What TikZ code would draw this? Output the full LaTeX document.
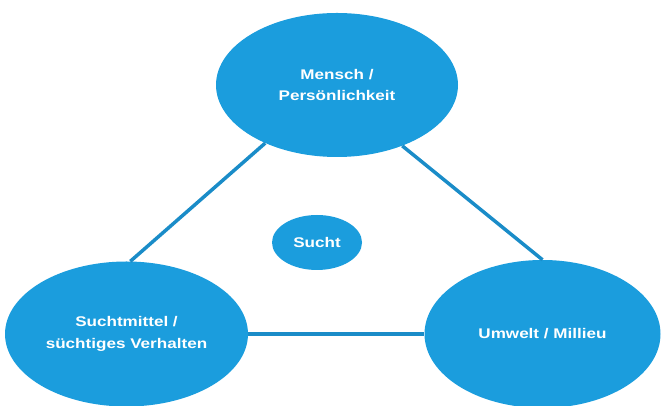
\documentclass[tikz,border=0pt]{standalone}
\usepackage{fontspec}
\newfontfamily\labelfont[FakeStretch=1.22]{Liberation Sans}
\usepackage{tikz}
\usetikzlibrary{shapes.geometric}
\definecolor{suchtblue}{RGB}{27,157,221}
\definecolor{linkblue}{RGB}{26,140,200}
\tikzset{
  factor/.style={ellipse, fill=suchtblue, text=white, inner sep=0pt,
    font=\labelfont\bfseries\fontsize{14}{21.5}\selectfont, align=center},
  link/.style={draw=linkblue, line width=3.5pt},
}

\begin{document}
\begin{tikzpicture}[x=1pt,y=1pt]
  \useasboundingbox (0,0) rectangle (661,406);
  \node[factor, minimum width=242pt, minimum height=144pt] (mensch) at (337,321) {Mensch /\\Persönlichkeit};
  \node[factor, minimum width=243pt, minimum height=145pt] (mittel) at (126.5,72) {Suchtmittel /\\süchtiges Verhalten};
  \node[factor, minimum width=236pt, minimum height=148pt] (umwelt) at (542.5,72) {Umwelt / Millieu};
  \node[factor, minimum width=90pt, minimum height=55pt] (sucht) at (317,163.5) {Sucht};
  % triangle
  \draw[link] (mensch.219) -- (mittel.87);
  \draw[link] (mensch.317) -- (umwelt.north);
  \draw[link] (mittel.east) -- (umwelt.west);
\end{tikzpicture}
\end{document}
